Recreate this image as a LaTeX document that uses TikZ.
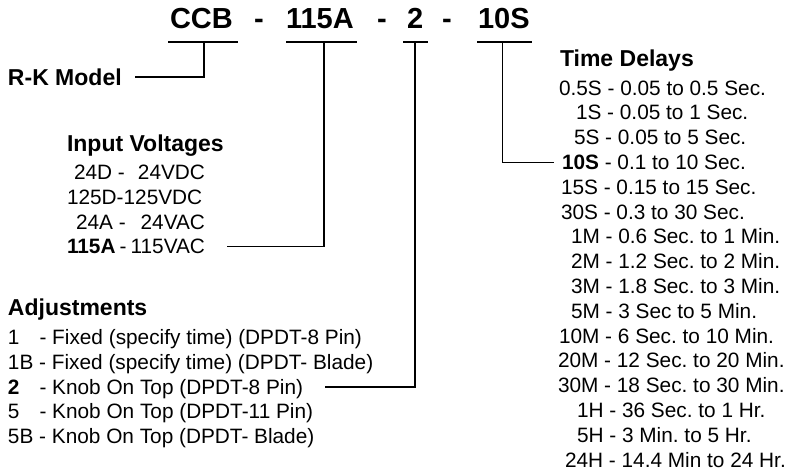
\documentclass[tikz,border=0pt]{standalone}
\usepackage{fontspec}
\setmainfont{Liberation Sans}
\frenchspacing
\begin{document}
\begin{tikzpicture}[x=1pt,y=-1pt,
  txt/.style={anchor=base west,inner sep=0pt,outer sep=0pt,font=\fontsize{20.8}{24}\selectfont},
  txe/.style={anchor=base east,inner sep=0pt,outer sep=0pt,font=\fontsize{20.8}{24}\selectfont},
  hd/.style={anchor=base west,inner sep=0pt,outer sep=0pt,font=\fontsize{23}{27}\selectfont\bfseries},
  ttl/.style={anchor=base west,inner sep=0pt,outer sep=0pt,font=\fontsize{29}{34}\selectfont\bfseries},
  conn/.style={line width=1.1pt,line join=miter}]
\useasboundingbox (0,0) rectangle (785,471);

% title
\node[ttl] (t1) at (170,28) {CCB};
\node[ttl] (d1) at (254,28) {-};
\node[ttl] (t2) at (286,28) {115A};
\node[ttl] (d2) at (377,28) {-};
\node[ttl] (t3) at (407,28) {2};
\node[ttl] (d3) at (442,28) {-};
\node[ttl] (t4) at (478,28) {10S};

% R-K Model
\node[hd] (rk) at (8,85) {R-K Model};

% Input voltages
\node[hd] (ivh) at (67,151) {Input Voltages};
\node[txt] (iv1a) at (74,179.5) {24D -};
\node[txe] (iv1b) at (205,179.5) {24VDC};
\node[txt] (iv2) at (67,204.3) {125D-125VDC};
\node[txt] (iv3a) at (76,229.1) {24A -};
\node[txe] (iv3b) at (205,229.1) {24VAC};
\node[txt,font=\fontsize{20.8}{24}\selectfont\bfseries] (iv4a) at (67,253.9) {115A};
\node[txt] (iv4d) at (119.5,253.9) {-};
\node[txe] (iv4b) at (205,253.9) {115VAC};

% Adjustments
\node[hd] (adh) at (8,315) {Adjustments};
\node[txt] (ad1a) at (8,344.5) {1};
\node[txt] (ad1b) at (39.5,344.5) {- Fixed (specify time) (DPDT-8 Pin)};
\node[txt] (ad2) at (8,369.3) {1B - Fixed (specify time) (DPDT- Blade)};
\node[txt,font=\fontsize{20.8}{24}\selectfont\bfseries] (ad3a) at (8,394.1) {2};
\node[txt] (ad3b) at (39.5,394.1) {- Knob On Top (DPDT-8 Pin)};
\node[txt] (ad4a) at (8,418.9) {5};
\node[txt] (ad4b) at (39.5,418.9) {- Knob On Top (DPDT-11 Pin)};
\node[txt] (ad5) at (8,443.7) {5B - Knob On Top (DPDT- Blade)};

% Time delays
\node[hd] (tdh) at (560,66) {Time Delays};
\node[txt] (td1) at (559,95.1) {0.5S - 0.05 to 0.5 Sec.};
\node[txt] (td2) at (576,119.9) {1S - 0.05 to 1 Sec.};
\node[txt] (td3) at (574,144.7) {5S - 0.05 to 5 Sec.};
\node[txt] (td4) at (562,169.5) {\textbf{10S} - 0.1 to 10 Sec.};
\node[txt] (td5) at (561,194.3) {15S - 0.15 to 15 Sec.};
\node[txt] (td6) at (561,219.1) {30S - 0.3 to 30 Sec.};
\node[txt] (td7) at (571,243.9) {1M - 0.6 Sec. to 1 Min.};
\node[txt] (td8) at (571,268.7) {2M - 1.2 Sec. to 2 Min.};
\node[txt] (td9) at (571,293.5) {3M - 1.8 Sec. to 3 Min.};
\node[txt] (td10) at (571,318.3) {5M - 3 Sec to 5 Min.};
\node[txt] (td11) at (559,343.1) {10M - 6 Sec. to 10 Min.};
\node[txt] (td12) at (558,367.9) {20M - 12 Sec. to 20 Min.};
\node[txt] (td13) at (558,392.7) {30M - 18 Sec. to 30 Min.};
\node[txt] (td14) at (577,417.5) {1H - 36 Sec. to 1 Hr.};
\node[txt] (td15) at (577,442.3) {5H - 3 Min. to 5 Hr.};
\node[txt] (td16) at (565,467.1) {24H - 14.4 Min to 24 Hr.};

% connector coordinates
\coordinate (u1a) at (168,42); \coordinate (u1b) at (238,42); \coordinate (u1m) at (204,42);
\coordinate (e1) at (135,77);
\coordinate (u2a) at (286,42); \coordinate (u2b) at (357,42); \coordinate (u2m) at (324,42);
\coordinate (e2) at (227,246.5);
\coordinate (u3a) at (403,42); \coordinate (u3b) at (428,42); \coordinate (u3m) at (415,42);
\coordinate (e3) at (325,387);
\coordinate (u4a) at (477,42); \coordinate (u4b) at (532,42); \coordinate (u4m) at (502.5,42);
\coordinate (e4) at (554,162.5);

\draw[conn] (u1a) -- (u1b);
\draw[conn] (u1m) |- (e1);
\draw[conn] (u2a) -- (u2b);
\draw[conn] (u2m) |- (e2);
\draw[conn] (u3a) -- (u3b);
\draw[conn] (u3m) |- (e3);
\draw[conn] (u4a) -- (u4b);
\draw[conn] (u4m) |- (e4);
\end{tikzpicture}
\end{document}
